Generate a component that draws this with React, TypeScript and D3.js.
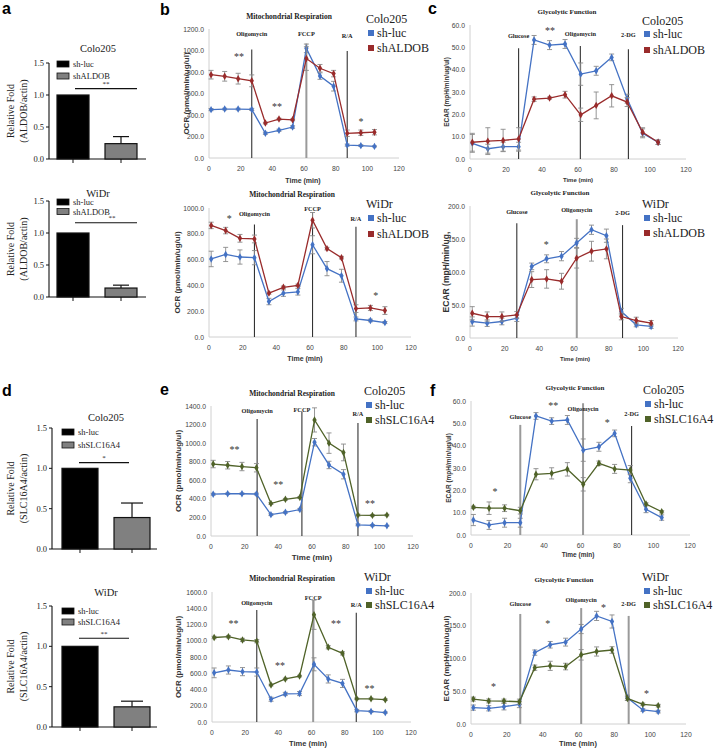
import React from 'react';
import * as d3 from 'd3';

// ---------------- DATA ----------------
const TIMES = [1.3, 9.9, 18.4, 27.0, 35.6, 44.2, 52.8, 61.5, 70.1, 78.7, 87.3, 95.9, 104.5];
const X_TICKS = [0, 20, 40, 60, 80, 100, 120];
const NAMES_ALDOB = ['sh-luc', 'shALDOB'];
const NAMES_SLC = ['sh-luc', 'shSLC16A4'];

// bar charts (relative fold)
const BAR_TICKS = [0, 0.5, 1.0, 1.5];
const aColoVals = [1.0, 0.24];
const aColoErr = [0, 0.11];
const aWidrVals = [1.0, 0.14];
const aWidrErr = [0, 0.045];
const dColoVals = [1.0, 0.39];
const dColoErr = [0, 0.18];
const dWidrVals = [1.0, 0.25];
const dWidrErr = [0, 0.07];

// b: OCR, shALDOB
const bColoLuc = [450, 455, 455, 452, 230, 258, 288, 1020, 762, 668, 120, 115, 108];
const bColoLucErr = [10, 8, 8, 10, 10, 10, 12, 40, 30, 45, 10, 8, 5];
const bColoSh = [775, 760, 738, 718, 325, 362, 355, 925, 835, 785, 230, 235, 240];
const bColoShErr = [40, 45, 50, 55, 8, 8, 8, 110, 35, 30, 30, 25, 25];
const bWidrLuc = [605, 640, 620, 615, 275, 340, 350, 715, 530, 475, 140, 128, 112];
const bWidrLucErr = [60, 55, 55, 55, 25, 25, 25, 70, 55, 50, 15, 10, 8];
const bWidrSh = [865, 825, 765, 760, 340, 385, 400, 905, 685, 615, 220, 225, 205];
const bWidrShErr = [25, 25, 30, 30, 8, 10, 10, 60, 10, 10, 30, 20, 30];

// c: ECAR, shALDOB
const cColoLuc = [7.0, 4.6, 5.5, 5.5, 53.3, 51.0, 51.5, 38.0, 39.5, 45.5, 27.0, 11.5, 7.5];
const cColoLucErr = [4, 2, 2, 2, 2, 2, 2, 5, 2, 1.5, 2, 2, 1];
const cColoSh = [7.5, 8.0, 8.3, 9.0, 26.8, 27.3, 28.8, 19.8, 24.0, 28.3, 25.5, 12.0, 7.5];
const cColoShErr = [4, 6, 5, 5, 1, 0.5, 1.5, 3, 6, 5, 2, 2, 1];
const cWidrLuc = [25, 22.5, 25, 30, 108.5, 120, 124, 144, 164, 155, 40, 20, 17.5];
const cWidrLucErr = [7, 5, 5, 5, 5, 6, 7, 7, 7, 10, 5, 3, 3];
const cWidrSh = [37.5, 32.5, 32.5, 35, 88.5, 89.5, 86, 121, 131.5, 135, 32.5, 26.5, 22.5];
const cWidrShErr = [10, 7, 7, 5, 12, 14, 12, 15, 15, 15, 5, 5, 4];

// e: OCR, shSLC16A4
const eColoLuc = [450, 455, 455, 452, 230, 255, 285, 1010, 765, 665, 120, 115, 110];
const eColoLucErr = [10, 8, 8, 10, 10, 10, 12, 40, 40, 50, 10, 8, 5];
const eColoSh = [775, 762, 748, 735, 350, 395, 415, 1250, 1000, 900, 225, 222, 225];
const eColoShErr = [40, 40, 45, 45, 10, 10, 10, 130, 110, 90, 10, 8, 8];
const eWidrLuc = [605, 640, 620, 615, 280, 345, 350, 710, 530, 475, 140, 130, 116];
const eWidrLucErr = [60, 50, 50, 50, 25, 20, 25, 80, 50, 50, 15, 10, 8];
const eWidrSh = [1040, 1050, 1010, 995, 455, 530, 565, 1320, 920, 845, 285, 285, 275];
const eWidrShErr = [15, 15, 20, 20, 10, 10, 10, 180, 20, 20, 10, 10, 10];

// f: ECAR, shSLC16A4
const fColoLuc = [6.7, 4.5, 5.5, 5.5, 53.3, 51.0, 51.5, 38.0, 39.5, 45.5, 25.4, 11.5, 7.8];
const fColoLucErr = [2.5, 2, 2, 2, 1.5, 1.5, 2, 5, 2, 1.5, 2, 1.5, 1.2];
const fColoSh = [12.4, 12.0, 12.0, 10.9, 27.2, 27.6, 29.4, 22.7, 32.1, 29.6, 29.1, 13.9, 10.4];
const fColoShErr = [0.5, 2.8, 1.5, 1.5, 2.5, 2.5, 3, 3, 1, 2, 2, 0.5, 0.5];
const fWidrLuc = [25, 24, 26.5, 30, 109, 121, 125, 145, 165, 156.5, 40, 21.4, 18.9];
const fWidrLucErr = [4, 4, 5, 5, 4, 5, 6, 7, 7, 10, 4, 2, 2];
const fWidrSh = [38, 35.2, 35, 34, 86, 88.8, 87.7, 105.6, 110.7, 113, 39, 30, 28];
const fWidrShErr = [3, 3, 3, 4, 4, 7, 5, 8, 7, 5, 3, 2, 2];

// significance marks (time, value, text)
const bColoStars = [{ t: 19, v: 940, s: '**' }, { t: 43, v: 475, s: '**' }, { t: 96, v: 335, s: '*' }];
const bWidrStars = [{ t: 12, v: 920, s: '*' }, { t: 99, v: 325, s: '*' }];
const cColoStars = [{ t: 44.5, v: 57.5, s: '**' }];
const cWidrStars = [{ t: 44, v: 141, s: '*' }];
const eColoStars = [{ t: 14, v: 936, s: '**' }, { t: 40, v: 558, s: '**' }, { t: 94.5, v: 353, s: '**' }];
const eWidrStars = [{ t: 13, v: 1215, s: '**' }, { t: 41, v: 700, s: '**' }, { t: 74.7, v: 1215, s: '**' }, { t: 95, v: 416, s: '**' }];
const fColoStars = [{ t: 13.2, v: 19.4, s: '*' }, { t: 45, v: 57.9, s: '**' }, { t: 74.7, v: 50.5, s: '*' }];
const fWidrStars = [{ t: 12.5, v: 58, s: '*' }, { t: 42.9, v: 154, s: '*' }, { t: 73.9, v: 178.6, s: '*' }, { t: 98, v: 46, s: '*' }];

// ---------------- STYLE ----------------
const SERIF = "'Liberation Serif', 'Times New Roman', serif";
const SANS = "'Liberation Sans', Arial, sans-serif";
const BLUE = '#4472c4';
const RED = '#992b2b';
const GREEN = '#4f6228';
const ERR = '#8a8a8a';
const fmt1 = d3.format('.1f');
const diamond = d3.symbol().type(d3.symbolDiamond).size(16)() as string;

type Inj = { t: number; label: string; top: number; ly: number; gray?: boolean };

function LineChart({ c }: { c: any }) {
  const x = d3.scaleLinear().domain([0, 120]).range(c.xr);
  const y = d3.scaleLinear().domain([0, c.ymax]).range(c.yr);
  const yTicks = d3.range(0, c.ymax + 1e-9, c.ystep);
  const line = d3.line<number>().x((_, i) => x(TIMES[i])).y((d) => y(d));
  const y0 = y(0);
  const ymid = (c.yr[0] + c.yr[1]) / 2;
  return (
    <g>
      <text x={c.titlePos[0]} y={c.titlePos[1]} textAnchor="middle" dominantBaseline="central"
        fontFamily={SERIF} fontWeight="bold" fontSize={c.titleSize || 7.5} fill="#222">{c.title}</text>
      <line x1={x(0)} x2={x(0)} y1={y0} y2={y(c.ymax)} stroke="#d0d0d0" />
      <line x1={x(0)} x2={x(120)} y1={y0} y2={y0} stroke="#d0d0d0" />
      {yTicks.map((t) => (
        <text key={'y' + t} x={x(0) - 5} y={y(t)} textAnchor="end" dominantBaseline="central"
          fontFamily={SANS} fontSize={6.8} fill="#444">{fmt1(t)}</text>
      ))}
      {X_TICKS.map((t) => (
        <text key={'x' + t} x={x(t)} y={y0 + 10} textAnchor="middle" dominantBaseline="central"
          fontFamily={SANS} fontSize={6.8} fill="#444">{t}</text>
      ))}
      <text transform={`translate(${c.yLabelX},${ymid}) rotate(-90)`} textAnchor="middle" dominantBaseline="central"
        fontFamily={SANS} fontWeight="bold" fontSize={c.yLabelSize} fill="#333">{c.yLabel}</text>
      <text x={c.timePos[0]} y={c.timePos[1]} textAnchor="middle" dominantBaseline="central"
        fontFamily={SANS} fontWeight="bold" fontSize={c.timeSize || 7.5} fill="#333">Time (min)</text>
      {c.inj.map((d: Inj) => (
        <g key={d.label}>
          <line x1={x(d.t)} x2={x(d.t)} y1={y0} y2={y(d.top)} stroke={d.gray ? '#9a9a9a' : '#333'} strokeWidth={d.gray ? 2 : 1.1} />
          <text x={x(d.t)} y={d.ly} textAnchor="middle" dominantBaseline="central" fontFamily={SERIF}
            fontWeight="bold" fontSize={6.3} fill="#222">{d.label}</text>
        </g>
      ))}
      {c.series.map((s: any, si: number) => (
        <g key={'s' + si}>
          {s.v.map((v: number, i: number) => {
            const cx = x(TIMES[i]);
            const e = s.e[i];
            return (
              <g key={i} stroke={ERR} strokeWidth={0.9}>
                <line x1={cx} x2={cx} y1={y(v - e)} y2={y(v + e)} />
                <line x1={cx - 2.5} x2={cx + 2.5} y1={y(v - e)} y2={y(v - e)} />
                <line x1={cx - 2.5} x2={cx + 2.5} y1={y(v + e)} y2={y(v + e)} />
              </g>
            );
          })}
          <path d={line(s.v) || ''} fill="none" stroke={s.color} strokeWidth={1.3} />
          {s.v.map((v: number, i: number) => (
            <path key={'m' + i} d={diamond} transform={`translate(${x(TIMES[i])},${y(v)})`} fill={s.color} />
          ))}
        </g>
      ))}
      {c.stars.map((d: any, i: number) => (
        <text key={'st' + i} x={x(d.t)} y={y(d.v)} textAnchor="middle" dominantBaseline="central"
          fontFamily={SERIF} fontSize={10} fill="#333">{d.s}</text>
      ))}
      <g fontFamily={SERIF} fontSize={12} fill="#222">
        <text x={c.legend.x} y={c.legend.y[0]} dominantBaseline="central">{c.legend.title}</text>
        {c.legend.names.map((n: string, i: number) => (
          <g key={n}>
            <rect x={c.legend.x + 2} y={c.legend.y[i + 1] - 3} width={6} height={6} fill={c.series[i].color} />
            <text x={c.legend.x + 11} y={c.legend.y[i + 1]} dominantBaseline="central">{n}</text>
          </g>
        ))}
      </g>
    </g>
  );
}

function BarChart({ c }: { c: any }) {
  const x = d3.scaleBand<string>().domain(c.names).range(c.xr).paddingInner(c.pi).paddingOuter(c.po);
  const y = d3.scaleLinear().domain([0, 1.5]).range(c.yr);
  const y0 = y(0);
  const bw = x.bandwidth();
  const ymid = (c.yr[0] + c.yr[1]) / 2;
  return (
    <g fontFamily={SERIF} fill="#222">
      <text x={c.titlePos[0]} y={c.titlePos[1]} textAnchor="middle" dominantBaseline="central" fontSize={10.5}>{c.title}</text>
      <line x1={c.xr[0]} x2={c.xr[0]} y1={y0} y2={y(1.5)} stroke="#111" strokeWidth={1.1} />
      {BAR_TICKS.map((t) => (
        <g key={t}>
          <line x1={c.xr[0] - 3} x2={c.xr[0]} y1={y(t)} y2={y(t)} stroke="#111" />
          <text x={c.xr[0] - 5} y={y(t)} textAnchor="end" dominantBaseline="central" fontSize={8.5}>{fmt1(t)}</text>
        </g>
      ))}
      <line x1={c.xr[0]} x2={c.axisEnd} y1={y0} y2={y0} stroke="#111" strokeWidth={1.1} />
      {c.names.map((n: string, i: number) => {
        const bx = x(n) as number;
        const v = c.vals[i];
        const e = c.errs[i];
        const cx = bx + bw / 2;
        return (
          <g key={n}>
            <line x1={cx} x2={cx} y1={y0} y2={y0 + 4} stroke="#111" />
            {e > 0 && (
              <g stroke="#111" strokeWidth={1.2}>
                <line x1={cx} x2={cx} y1={y(v)} y2={y(v + e)} />
                <line x1={cx - c.cap / 2} x2={cx + c.cap / 2} y1={y(v + e)} y2={y(v + e)} />
              </g>
            )}
            <rect x={bx} y={y(v)} width={bw} height={y0 - y(v)} fill={i === 0 ? '#000' : '#808080'} stroke="#111" strokeWidth={1.2} />
          </g>
        );
      })}
      <line x1={c.sigX[0]} x2={c.sigX[1]} y1={y(c.sigV)} y2={y(c.sigV)} stroke="#111" strokeWidth={1.2} />
      <text x={c.sigTx} y={y(c.sigV) - 2.5} textAnchor="middle" fontSize={7}>{c.sig}</text>
      {c.names.map((n: string, i: number) => (
        <g key={'l' + n}>
          <rect x={c.legX} y={c.legY[i] - 3} width={12} height={6} fill={i === 0 ? '#000' : '#808080'} stroke="#111" strokeWidth={0.8} />
          <text x={c.legX + 16} y={c.legY[i]} dominantBaseline="central" fontSize={8.5}>{n}</text>
        </g>
      ))}
      <text transform={`translate(${c.ylx[0]},${ymid}) rotate(-90)`} textAnchor="middle" dominantBaseline="central" fontSize={10}>Relative Fold</text>
      <text transform={`translate(${c.ylx[1]},${ymid}) rotate(-90)`} textAnchor="middle" dominantBaseline="central" fontSize={10}>{c.yl2}</text>
    </g>
  );
}

// ---------------- LAYOUT ----------------
const aColo = { names: NAMES_ALDOB, vals: aColoVals, errs: aColoErr, xr: [49, 145], pi: 1 / 3, po: 1 / 6, axisEnd: 146, yr: [159, 63], title: 'Colo205', titlePos: [98, 48], legX: 57, legY: [64, 76], sigX: [75, 137], sigTx: 106, sigV: 1.1, sig: '**', cap: 16, ylx: [10, 23], yl2: '(ALDOB/actin)' };
const aWidr = { names: NAMES_ALDOB, vals: aWidrVals, errs: aWidrErr, xr: [49, 145], pi: 1 / 3, po: 1 / 6, axisEnd: 146, yr: [297, 201], title: 'WiDr', titlePos: [98, 193], legX: 57, legY: [202, 211.5], sigX: [75, 137], sigTx: 112, sigV: 1.16, sig: '**', cap: 16, ylx: [10, 23], yl2: '(ALDOB/actin)' };
const dColo = { names: NAMES_SLC, vals: dColoVals, errs: dColoErr, xr: [52, 160], pi: 0.308, po: 0.192, axisEnd: 157, yr: [549, 428], title: 'Colo205', titlePos: [106, 417], legX: 62, legY: [432, 445], sigX: [79, 129], sigTx: 104, sigV: 1.07, sig: '*', cap: 22, ylx: [10, 23], yl2: '(SLC16A4/actin)' };
const dWidr = { names: NAMES_SLC, vals: dWidrVals, errs: dWidrErr, xr: [52, 160], pi: 0.308, po: 0.192, axisEnd: 157, yr: [727, 606], title: 'WiDr', titlePos: [106, 592], legX: 62, legY: [611, 622], sigX: [79, 129], sigTx: 104, sigV: 1.1, sig: '**', cap: 22, ylx: [10, 23], yl2: '(SLC16A4/actin)' };

const OCR = 'OCR (pmol/min/ug/ul)';
const ECAR = 'ECAR (mpH/min/ug/ul)';
const bColo = {
  xr: [209, 399], ymax: 1200, ystep: 200, yr: [158, 29], title: 'Mitochondrial Respiration', titlePos: [289, 16],
  yLabel: OCR, yLabelX: 186, yLabelSize: 8, timePos: [303, 180], timeSize: 7,
  legend: { x: 366, y: [19, 33, 48], title: 'Colo205', names: NAMES_ALDOB },
  series: [{ v: bColoLuc, e: bColoLucErr, color: BLUE }, { v: bColoSh, e: bColoShErr, color: RED }],
  inj: [{ t: 27, label: 'Oligomycin', top: 1010, ly: 33 }, { t: 61.5, label: 'FCCP', top: 1065, ly: 33, gray: true }, { t: 87.3, label: 'R/A', top: 995, ly: 35 }],
  stars: bColoStars,
};
const bWidr = {
  xr: [209, 411], ymax: 1000, ystep: 200, yr: [337, 208], title: 'Mitochondrial Respiration', titlePos: [292, 194],
  yLabel: OCR, yLabelX: 177, yLabelSize: 8, timePos: [305, 358], timeSize: 7,
  legend: { x: 366, y: [204, 218, 234], title: 'WiDr', names: NAMES_ALDOB },
  series: [{ v: bWidrLuc, e: bWidrLucErr, color: BLUE }, { v: bWidrSh, e: bWidrShErr, color: RED }],
  inj: [{ t: 27, label: 'Oligomycin', top: 873, ly: 213 }, { t: 61.5, label: 'FCCP', top: 967, ly: 208 }, { t: 87.3, label: 'R/A', top: 855, ly: 218 }],
  stars: bWidrStars,
};
const cColo = {
  xr: [470, 686], ymax: 60, ystep: 10, yr: [159, 25], title: 'Glycolytic Function', titlePos: [567, 12], titleSize: 7,
  yLabel: ECAR, yLabelX: 446, yLabelSize: 6.5, timePos: [578, 180], timeSize: 6,
  legend: { x: 642, y: [21, 34, 50], title: 'Colo205', names: NAMES_ALDOB },
  series: [{ v: cColoLuc, e: cColoLucErr, color: BLUE }, { v: cColoSh, e: cColoShErr, color: RED }],
  inj: [{ t: 27, label: 'Glucose', top: 49.6, ly: 35 }, { t: 61.3, label: 'Oligomycin', top: 50.6, ly: 33 }, { t: 88, label: '2-DG', top: 49.1, ly: 34 }],
  stars: cColoStars,
};
const cWidr = {
  xr: [470, 678], ymax: 200, ystep: 50, yr: [338, 206], title: 'Glycolytic Function', titlePos: [560, 193], titleSize: 7,
  yLabel: 'ECAR (mpH/min/ug,', yLabelX: 446, yLabelSize: 8.5, timePos: [575, 359], timeSize: 6,
  legend: { x: 642, y: [204, 218, 233], title: 'WiDr', names: NAMES_ALDOB },
  series: [{ v: cWidrLuc, e: cWidrLucErr, color: BLUE }, { v: cWidrSh, e: cWidrShErr, color: RED }],
  inj: [{ t: 27, label: 'Glucose', top: 174, ly: 211 }, { t: 61.6, label: 'Oligomycin', top: 180, ly: 209, gray: true }, { t: 88, label: '2-DG', top: 171, ly: 212 }],
  stars: cWidrStars,
};
const eColo = {
  xr: [211, 413], ymax: 1400, ystep: 200, yr: [536, 406], title: 'Mitochondrial Respiration', titlePos: [292, 393],
  yLabel: OCR, yLabelX: 178, yLabelSize: 8, timePos: [312, 557], timeSize: 8,
  legend: { x: 364, y: [391, 405, 420], title: 'Colo205', names: NAMES_SLC },
  series: [{ v: eColoLuc, e: eColoLucErr, color: BLUE }, { v: eColoSh, e: eColoShErr, color: GREEN }],
  inj: [{ t: 27.4, label: 'Oligomycin', top: 1260, ly: 410 }, { t: 54, label: 'FCCP', top: 1340, ly: 409 }, { t: 87.3, label: 'R/A', top: 1217, ly: 413 }],
  stars: eColoStars,
};
const eWidr = {
  xr: [212, 411], ymax: 1600, ystep: 200, yr: [722, 592], title: 'Mitochondrial Respiration', titlePos: [292, 578],
  yLabel: OCR, yLabelX: 178, yLabelSize: 8, timePos: [308, 743], timeSize: 7.5,
  legend: { x: 364, y: [577, 591, 605], title: 'WiDr', names: NAMES_SLC },
  series: [{ v: eWidrLuc, e: eWidrLucErr, color: BLUE }, { v: eWidrSh, e: eWidrShErr, color: GREEN }],
  inj: [{ t: 27, label: 'Oligomycin', top: 1380, ly: 602 }, { t: 61, label: 'FCCP', top: 1500, ly: 597, gray: true }, { t: 87, label: 'R/A', top: 1345, ly: 604 }],
  stars: eWidrStars,
};
const fColo = {
  xr: [471, 690], ymax: 60, ystep: 10, yr: [535, 401], title: 'Glycolytic Function', titlePos: [575, 388], titleSize: 7,
  yLabel: ECAR, yLabelX: 448, yLabelSize: 6.5, timePos: [578, 554], timeSize: 6.5,
  legend: { x: 643, y: [390, 404, 419], title: 'Colo205', names: NAMES_SLC },
  series: [{ v: fColoLuc, e: fColoLucErr, color: BLUE }, { v: fColoSh, e: fColoShErr, color: GREEN }],
  inj: [{ t: 27, label: 'Glucose', top: 49.3, ly: 416, gray: true }, { t: 61.4, label: 'Oligomycin', top: 59, ly: 408, gray: true }, { t: 88, label: '2-DG', top: 48.8, ly: 413 }],
  stars: fColoStars,
};
const fWidr = {
  xr: [471, 686], ymax: 200, ystep: 50, yr: [724, 593], title: 'Glycolytic Function', titlePos: [564, 580], titleSize: 7,
  yLabel: ECAR, yLabelX: 446, yLabelSize: 8, timePos: [578, 743], timeSize: 7.5,
  legend: { x: 642, y: [577, 591, 605], title: 'WiDr', names: NAMES_SLC },
  series: [{ v: fWidrLuc, e: fWidrLucErr, color: BLUE }, { v: fWidrSh, e: fWidrShErr, color: GREEN }],
  inj: [{ t: 27.5, label: 'Glucose', top: 168, ly: 603, gray: true }, { t: 61.5, label: 'Oligomycin', top: 177, ly: 599, gray: true }, { t: 88, label: '2-DG', top: 165, ly: 603, gray: true }],
  stars: fWidrStars,
};

const PANEL_LABELS = [
  { s: 'a', x: 2, y: 14 }, { s: 'b', x: 160, y: 15 }, { s: 'c', x: 428, y: 14 },
  { s: 'd', x: 2, y: 396 }, { s: 'e', x: 160, y: 395 }, { s: 'f', x: 430, y: 396 },
];

export default function App() {
  return (
    <svg width={714} height={749} style={{ position: 'absolute', left: 0, top: 0, background: '#fff' }}>
      <rect width={714} height={749} fill="#fff" />
      {PANEL_LABELS.map((p) => (
        <text key={p.s} x={p.x} y={p.y} fontFamily={SANS} fontWeight="bold" fontSize={16} fill="#000">{p.s}</text>
      ))}
      <BarChart c={aColo} />
      <BarChart c={aWidr} />
      <BarChart c={dColo} />
      <BarChart c={dWidr} />
      <LineChart c={bColo} />
      <LineChart c={bWidr} />
      <LineChart c={cColo} />
      <LineChart c={cWidr} />
      <LineChart c={eColo} />
      <LineChart c={eWidr} />
      <LineChart c={fColo} />
      <LineChart c={fWidr} />
    </svg>
  );
}
